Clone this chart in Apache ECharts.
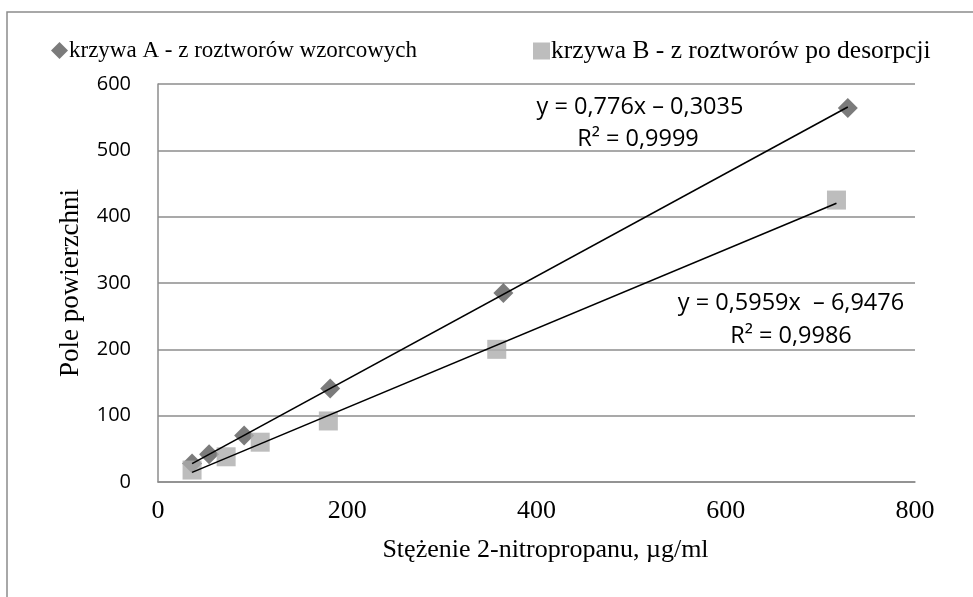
<!DOCTYPE html>
<html>
<head>
<meta charset="utf-8">
<script src="https://cdn.jsdelivr.net/npm/echarts@6/dist/echarts.min.js"></script>
<style>
  html, body { margin: 0; padding: 0; background: #fff; }
  #chart { width: 973px; height: 597px; }
</style>
</head>
<body>
<div id="chart"></div>
<script>
// krzywa A - z roztworów wzorcowych
const xA = [36, 54, 91, 182, 365, 729];
const yA = [28, 42, 70, 141, 285, 564];
// krzywa B - z roztworów po desorpcji
const xB = [36, 72, 108, 180, 358, 717];
const yB = [18, 38, 60, 92, 200, 425];
// trend lines (from the equations shown on the chart)
const slopeA = 0.776, interceptA = -0.3035;
const slopeB = 0.5959, interceptB = -6.9476;
const eqA = ["y = 0,776x \u2013 0,3035", "R\u00b2 = 0,9999"];
const eqB = ["y = 0,5959x  \u2013 6,9476", "R\u00b2 = 0,9986"];
const legendNames = ["krzywa A - z roztworów wzorcowych", "krzywa B - z roztworów po desorpcji"];

const serif = '"Liberation Serif", "Times New Roman", serif';
const sans = '"Open Sans", "Noto Sans", sans-serif';

function pairs(xs, ys) {
  return xs.map((x, i) => [x, ys[i]]);
}
function trend(xs, a, b) {
  const lo = Math.min(...xs), hi = Math.max(...xs);
  return [[lo, a * lo + b], [hi, a * hi + b]];
}

const chart = echarts.init(document.getElementById("chart"));
chart.setOption({
  animation: false,
  backgroundColor: "#fff",
  grid: { left: 158, right: 58, top: 84, bottom: 115 },
  legend: [
    {
      top: 34,
      left: 46,
      itemWidth: 17,
      itemHeight: 17,
      textStyle: { fontFamily: serif, fontSize: 23, color: "#000", padding: [0, 0, 0, -4] },
      data: [{ name: legendNames[0], icon: "diamond", itemStyle: { color: "#5a5a5a" } }]
    },
    {
      top: 33,
      left: 528,
      itemWidth: 17,
      itemHeight: 17,
      textStyle: { fontFamily: serif, fontSize: 25.5, color: "#000", padding: [0, 0, 0, -4] },
      data: [{ name: legendNames[1], icon: "rect", itemStyle: { color: "#acacac" } }]
    }
  ],
  xAxis: {
    type: "value",
    min: 0,
    max: 800,
    interval: 200,
    name: "Stężenie 2-nitropropanu, µg/ml",
    nameLocation: "middle",
    nameGap: 55,
    nameTextStyle: { fontFamily: serif, fontSize: 26, color: "#000", padding: [0, 0, 0, 18] },
    axisLine: { show: true, lineStyle: { color: "#8c8c8c", width: 1.5 } },
    axisTick: { show: false },
    splitLine: { show: false },
    axisLabel: { fontFamily: serif, fontSize: 26, color: "#000", margin: 16 }
  },
  yAxis: {
    type: "value",
    min: 0,
    max: 600,
    interval: 100,
    name: "Pole powierzchni",
    nameLocation: "middle",
    nameGap: 74,
    nameTextStyle: { fontFamily: serif, fontSize: 27, color: "#000" },
    axisLine: { show: true, lineStyle: { color: "#8c8c8c", width: 1.5 } },
    axisTick: { show: false },
    splitLine: { show: true, lineStyle: { color: "#8c8c8c", width: 1.5 } },
    axisLabel: { fontFamily: sans, fontSize: 20, color: "#000", margin: 27 }
  },
  series: [
    {
      name: legendNames[1],
      type: "scatter",
      symbol: "rect",
      symbolSize: 19,
      itemStyle: { color: "#acacac" },
      data: pairs(xB, yB),
      z: 2
    },
    {
      name: legendNames[0],
      type: "scatter",
      symbol: "diamond",
      symbolSize: 20,
      itemStyle: { color: "#5a5a5a" },
      data: pairs(xA, yA),
      z: 1
    },
    {
      name: "trendA",
      type: "line",
      symbol: "none",
      lineStyle: { color: "#000", width: 1.6 },
      data: trend(xA, slopeA, interceptA),
      z: 5
    },
    {
      name: "trendB",
      type: "line",
      symbol: "none",
      lineStyle: { color: "#000", width: 1.6 },
      data: trend(xB, slopeB, interceptB),
      z: 5
    }
  ],
  graphic: [
    {
      type: "rect",
      shape: { x: 7, y: 12, width: 1100, height: 700 },
      style: { fill: null, stroke: "#8c8c8c", lineWidth: 1.5 },
      silent: true
    },
    {
      type: "text",
      x: 640, y: 107,
      style: { text: eqA[0], fontFamily: sans, fontSize: 23.5, fill: "#000", align: "center", verticalAlign: "middle" }
    },
    {
      type: "text",
      x: 638, y: 139,
      style: { text: eqA[1], fontFamily: sans, fontSize: 23.5, fill: "#000", align: "center", verticalAlign: "middle" }
    },
    {
      type: "text",
      x: 791, y: 303,
      style: { text: eqB[0], fontFamily: sans, fontSize: 23.5, fill: "#000", align: "center", verticalAlign: "middle" }
    },
    {
      type: "text",
      x: 791, y: 336,
      style: { text: eqB[1], fontFamily: sans, fontSize: 23.5, fill: "#000", align: "center", verticalAlign: "middle" }
    }
  ]
});
</script>
</body>
</html>
